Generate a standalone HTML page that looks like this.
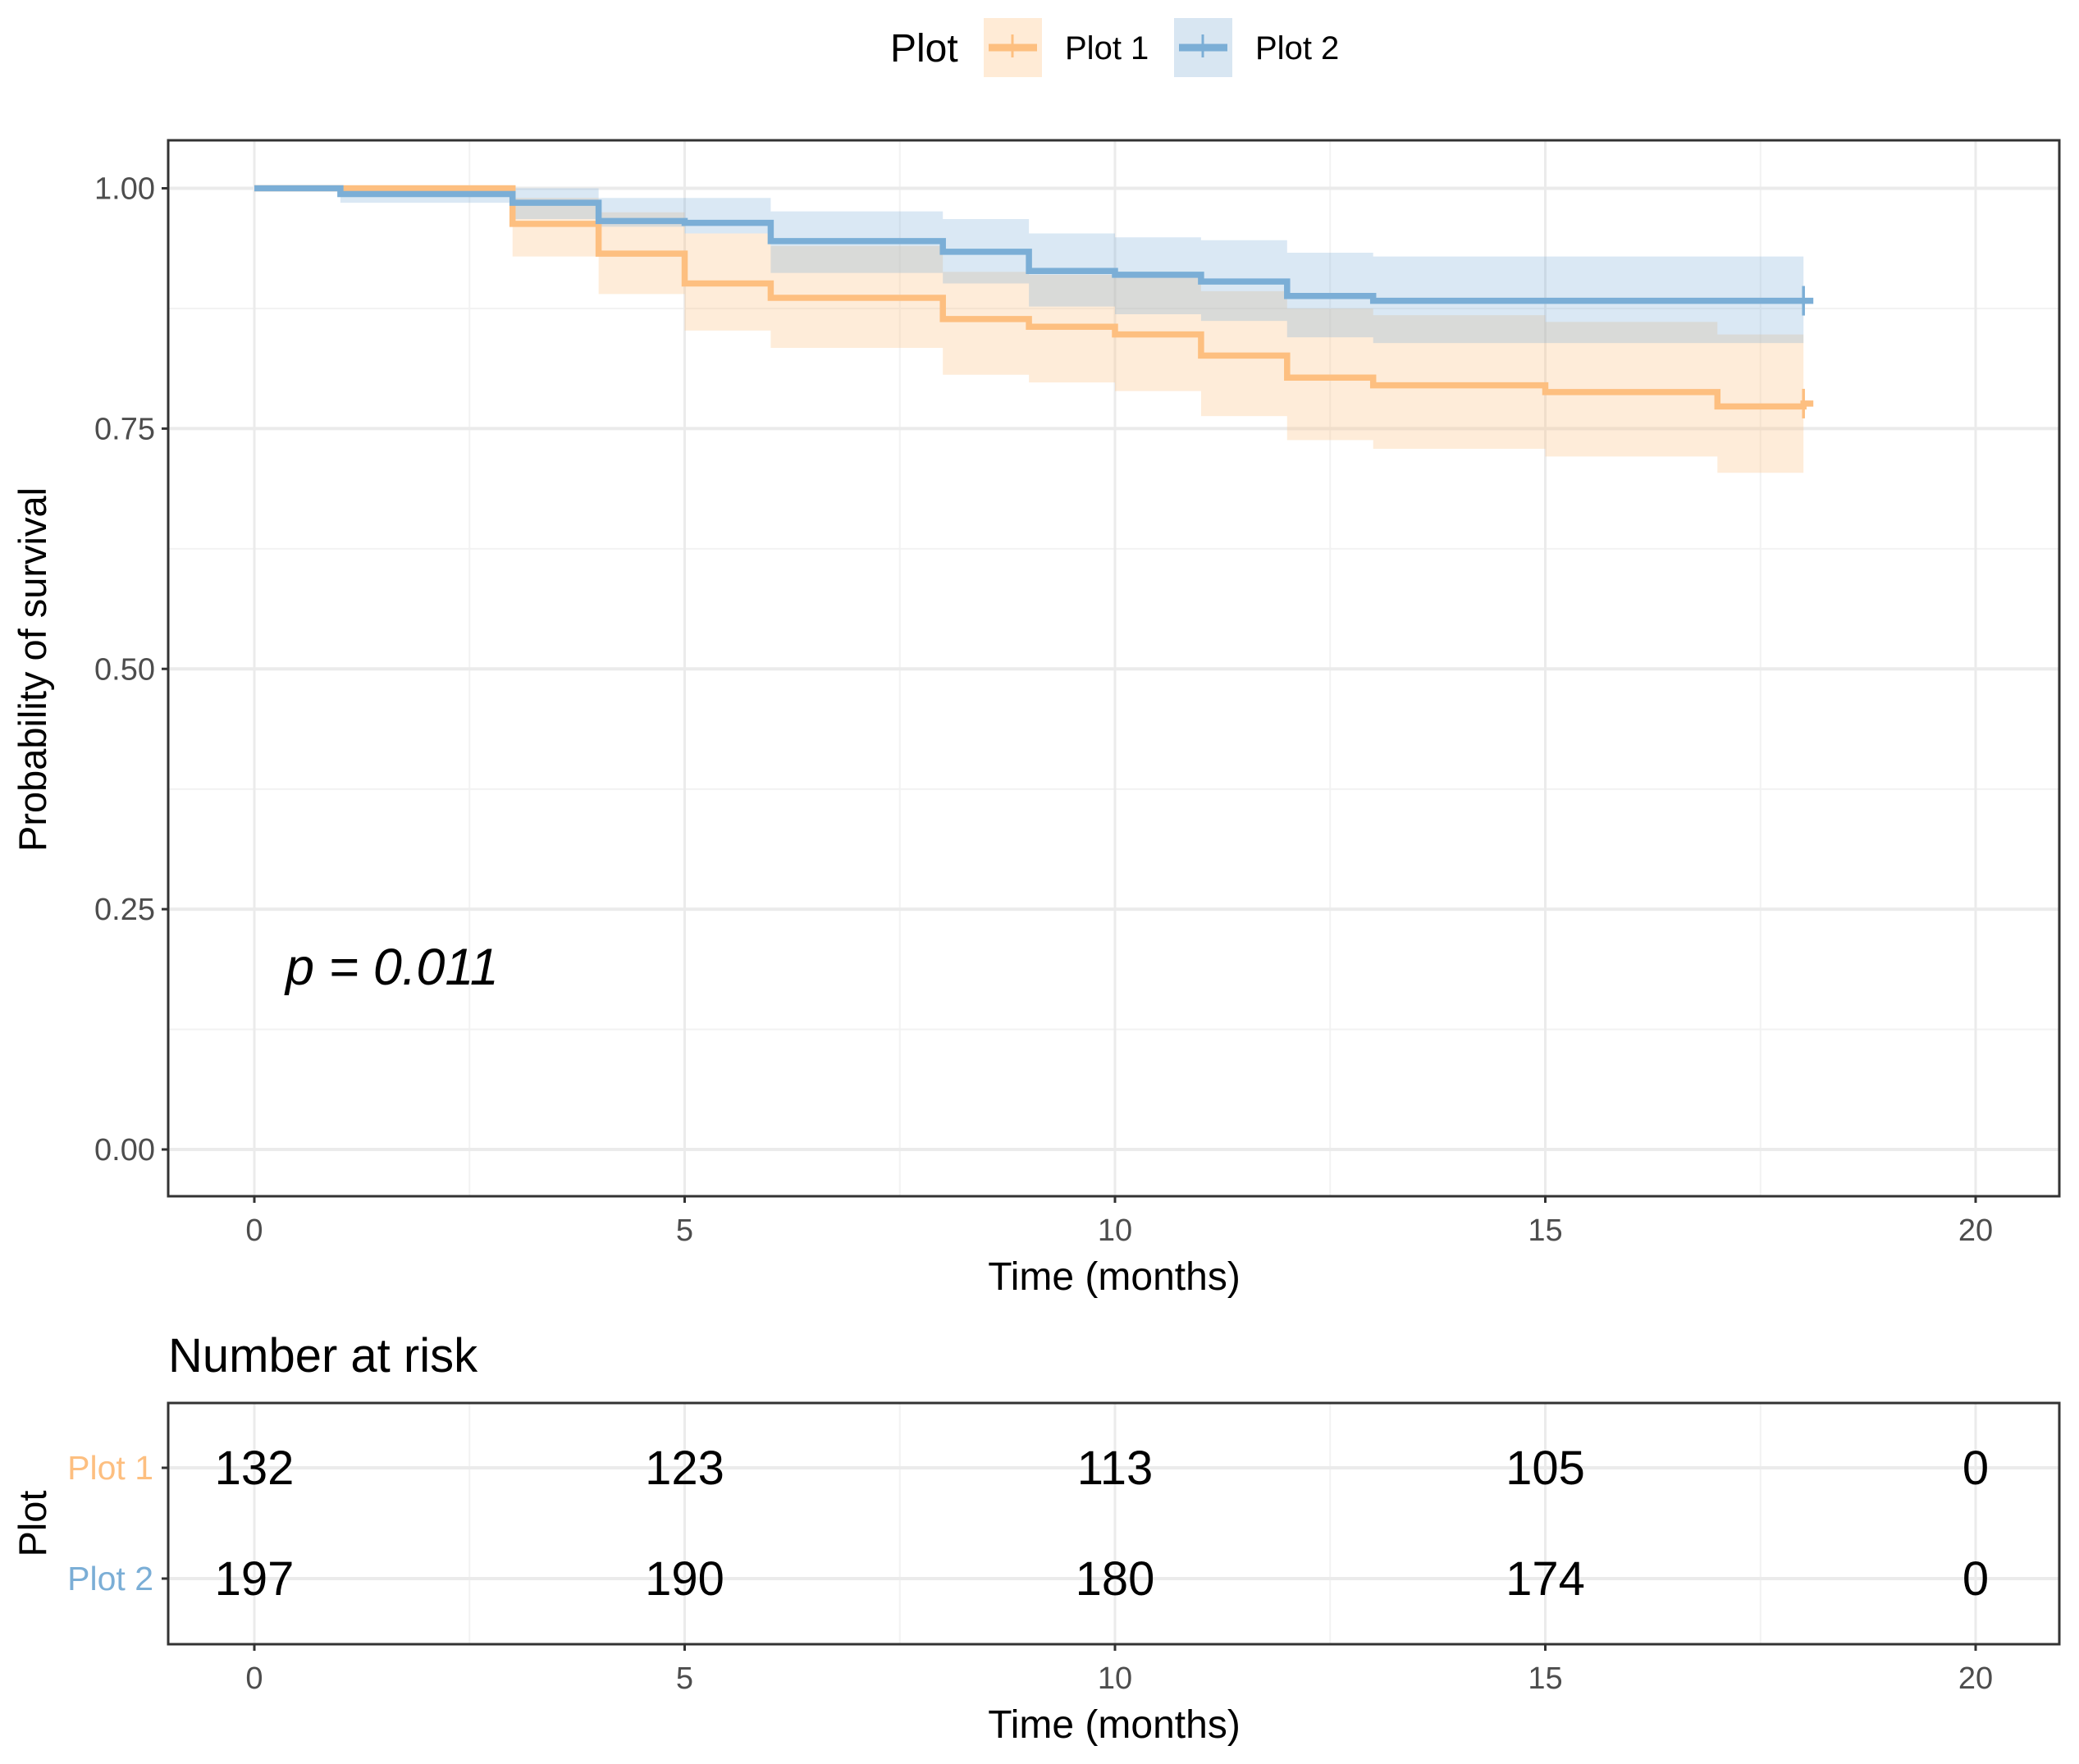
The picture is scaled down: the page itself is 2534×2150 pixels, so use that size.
<!DOCTYPE html>
<html><head><meta charset="utf-8"><style>
html,body{margin:0;padding:0;background:#fff;}
svg{display:block;font-family:"Liberation Sans",Arial,sans-serif;}
</style></head><body>
<svg id="chart" width="2534" height="2150" viewBox="0 0 2534 2150">
<g id="legend">
<text x="1085" y="75" font-size="48" fill="#000">Plot</text>
<g>
<rect x="1199" y="22" width="71" height="72" fill="#ffebd6"/>
<line x1="1205" y1="58" x2="1264" y2="58" stroke="#fdbf80" stroke-width="9"/>
<line x1="1234" y1="42" x2="1234" y2="70" stroke="#fdbf80" stroke-width="3"/>
<text x="1298" y="72" font-size="40" fill="#000">Plot 1</text>
</g>
<g>
<rect x="1431" y="22" width="71" height="72" fill="#d8e6f2"/>
<line x1="1437" y1="58" x2="1496" y2="58" stroke="#7baed6" stroke-width="9"/>
<line x1="1466" y1="42" x2="1466" y2="70" stroke="#7baed6" stroke-width="3"/>
<text x="1530" y="72" font-size="40" fill="#000">Plot 2</text>
</g>
</g>
<g id="main"></g>
<g id="risk"></g>
</svg>
<script>
const xTicks=[0,5,10,15,20];
const yTicks=[0,0.25,0.5,0.75,1];
const yTickLabels=["0.00","0.25","0.50","0.75","1.00"];
const stepTimes=[0,1,3,4,5,6,8,9,10,11,12,13,15,17];
const endTime=18;
const plot1Surv=[1,1,0.963,0.932,0.901,0.886,0.864,0.856,0.848,0.826,0.803,0.795,0.788,0.773];
const plot1Upper=[1,1,0.99,0.975,0.953,0.94,0.913,0.91,0.908,0.893,0.875,0.868,0.861,0.848];
const plot1Lower=[1,1,0.929,0.89,0.852,0.834,0.806,0.798,0.789,0.763,0.738,0.729,0.721,0.704];
const plot1Censor=0.776;
const plot2Surv=[1,0.994,0.985,0.966,0.964,0.945,0.934,0.914,0.91,0.903,0.888,0.883,0.883,0.883];
const plot2Upper=[1,1,1,0.99,0.99,0.976,0.968,0.953,0.949,0.946,0.933,0.929,0.929,0.929];
const plot2Lower=[1,0.985,0.968,0.96,0.953,0.912,0.901,0.877,0.869,0.862,0.845,0.839,0.839,0.839];
const plot2Censor=0.883;
const riskGroups=["Plot 1","Plot 2"];
const riskPlot1=[132,123,113,105,0];
const riskPlot2=[197,190,180,174,0];
const pValueText="p = 0.011";

const NS="http://www.w3.org/2000/svg";
const L=205,R=2510,T=171,B=1458;
const X=t=>310+(2408-310)*t/20;
const Y=v=>1401-(1401-229.5)*v;
function mk(tag,attrs,parent){const e=document.createElementNS(NS,tag);for(const k in attrs)e.setAttribute(k,attrs[k]);parent.appendChild(e);return e;}
const main=document.getElementById('main');
mk('rect',{x:L,y:T,width:R-L,height:B-T,fill:'#fff'},main);
[2.5,7.5,12.5,17.5].forEach(t=>mk('line',{x1:X(t),x2:X(t),y1:T,y2:B,stroke:'#f2f2f2','stroke-width':2},main));
[0.125,0.375,0.625,0.875].forEach(v=>mk('line',{x1:L,x2:R,y1:Y(v),y2:Y(v),stroke:'#f2f2f2','stroke-width':2},main));
xTicks.forEach(t=>mk('line',{x1:X(t),x2:X(t),y1:T,y2:B,stroke:'#ebebeb','stroke-width':3},main));
yTicks.forEach(v=>mk('line',{x1:L,x2:R,y1:Y(v),y2:Y(v),stroke:'#ebebeb','stroke-width':4},main));
function band(up,lo,fill,name){
  let d='';
  for(let i=0;i<stepTimes.length;i++){const t0=stepTimes[i],t1=i+1<stepTimes.length?stepTimes[i+1]:endTime;d+=(i?'L':'M')+X(t0)+','+Y(up[i])+'L'+X(t1)+','+Y(up[i]);}
  for(let i=stepTimes.length-1;i>=0;i--){const t0=stepTimes[i],t1=i+1<stepTimes.length?stepTimes[i+1]:endTime;d+='L'+X(t1)+','+Y(lo[i])+'L'+X(t0)+','+Y(lo[i]);}
  const p=mk('path',{d:d+'Z',fill:fill},main);
  
  
}
function curve(s,color,name,cens){
  let d='';
  for(let i=0;i<stepTimes.length;i++){const t0=stepTimes[i],t1=i+1<stepTimes.length?stepTimes[i+1]:endTime;d+=(i?'L':'M')+X(t0)+','+Y(s[i])+'L'+X(t1)+','+Y(s[i]);}
  d+='L'+X(endTime)+','+Y(cens)+'L'+(X(endTime)+12)+','+Y(cens);
  const p=mk('path',{d:d,fill:'none',stroke:color,'stroke-width':7.5},main);
  
  
  const c=mk('line',{x1:X(endTime),x2:X(endTime),y1:Y(cens)-18,y2:Y(cens)+18,stroke:color,'stroke-width':3.5},main);
  
  
}
band(plot1Upper,plot1Lower,'rgba(253,191,128,0.3)','plot-1-confidence-band');
band(plot2Upper,plot2Lower,'rgba(123,174,214,0.28)','plot-2-confidence-band');
curve(plot1Surv,'#fdbf80','plot-1-survival-curve',plot1Censor);
curve(plot2Surv,'#7baed6','plot-2-survival-curve',plot2Censor);
mk('rect',{x:L,y:T,width:R-L,height:B-T,fill:'none',stroke:'#333','stroke-width':3},main);
yTicks.forEach((v,i)=>{
  mk('line',{x1:L-8,x2:L,y1:Y(v),y2:Y(v),stroke:'#333','stroke-width':3},main);
  const t=mk('text',{x:L-16,y:Y(v)+13,'text-anchor':'end','font-size':38,fill:'#4d4d4d'},main);
  t.textContent=yTickLabels[i];
  
  
});
xTicks.forEach(v=>{
  mk('line',{x1:X(v),x2:X(v),y1:B,y2:B+8,stroke:'#333','stroke-width':3},main);
  const t=mk('text',{x:X(v),y:1512,'text-anchor':'middle','font-size':38,fill:'#4d4d4d'},main);
  t.textContent=v;
  
  
});
let tt=mk('text',{x:1358,y:1572,'text-anchor':'middle','font-size':48,fill:'#000'},main);
tt.textContent='Time (months)';


tt=mk('text',{x:0,y:0,'text-anchor':'middle','font-size':47,fill:'#000',transform:'translate(56,816) rotate(-90)'},main);
tt.textContent='Probability of survival';


tt=mk('text',{x:348,y:1200,'font-size':63,'font-style':'italic',fill:'#000'},main);
tt.textContent=pValueText;



const risk=document.getElementById('risk');
const RT=1710,RB=2004,rowY=[1789,1924];
tt=mk('text',{x:205,y:1672,'font-size':58,fill:'#000'},risk);
tt.textContent='Number at risk';


[2.5,7.5,12.5,17.5].forEach(t=>mk('line',{x1:X(t),x2:X(t),y1:RT,y2:RB,stroke:'#f2f2f2','stroke-width':2},risk));
xTicks.forEach(t=>mk('line',{x1:X(t),x2:X(t),y1:RT,y2:RB,stroke:'#ebebeb','stroke-width':3},risk));
rowY.forEach(y=>mk('line',{x1:L,x2:R,y1:y,y2:y,stroke:'#ebebeb','stroke-width':4},risk));
[riskPlot1,riskPlot2].forEach((arr,r)=>{
  arr.forEach((n,i)=>{
    const t=mk('text',{x:X(xTicks[i]),y:rowY[r]+20,'text-anchor':'middle','font-size':58,fill:'#000'},risk);
    t.textContent=n;
    
    
  });
  mk('line',{x1:L-8,x2:L,y1:rowY[r],y2:rowY[r],stroke:'#333','stroke-width':3},risk);
  const g=mk('text',{x:L-18,y:rowY[r]+14,'text-anchor':'end','font-size':41,fill:r?'#7baed6':'#fdbf80'},risk);
  g.textContent=riskGroups[r];
  
  
});
mk('rect',{x:L,y:RT,width:R-L,height:RB-RT,fill:'none',stroke:'#333','stroke-width':3},risk);
xTicks.forEach(v=>{
  mk('line',{x1:X(v),x2:X(v),y1:RB,y2:RB+8,stroke:'#333','stroke-width':3},risk);
  const t=mk('text',{x:X(v),y:2058,'text-anchor':'middle','font-size':38,fill:'#4d4d4d'},risk);
  t.textContent=v;
  
  
});
tt=mk('text',{x:1358,y:2118,'text-anchor':'middle','font-size':48,fill:'#000'},risk);
tt.textContent='Time (months)';


tt=mk('text',{x:0,y:0,'text-anchor':'middle','font-size':47,fill:'#000',transform:'translate(56,1857) rotate(-90)'},risk);
tt.textContent='Plot';


</script>
</body></html>
